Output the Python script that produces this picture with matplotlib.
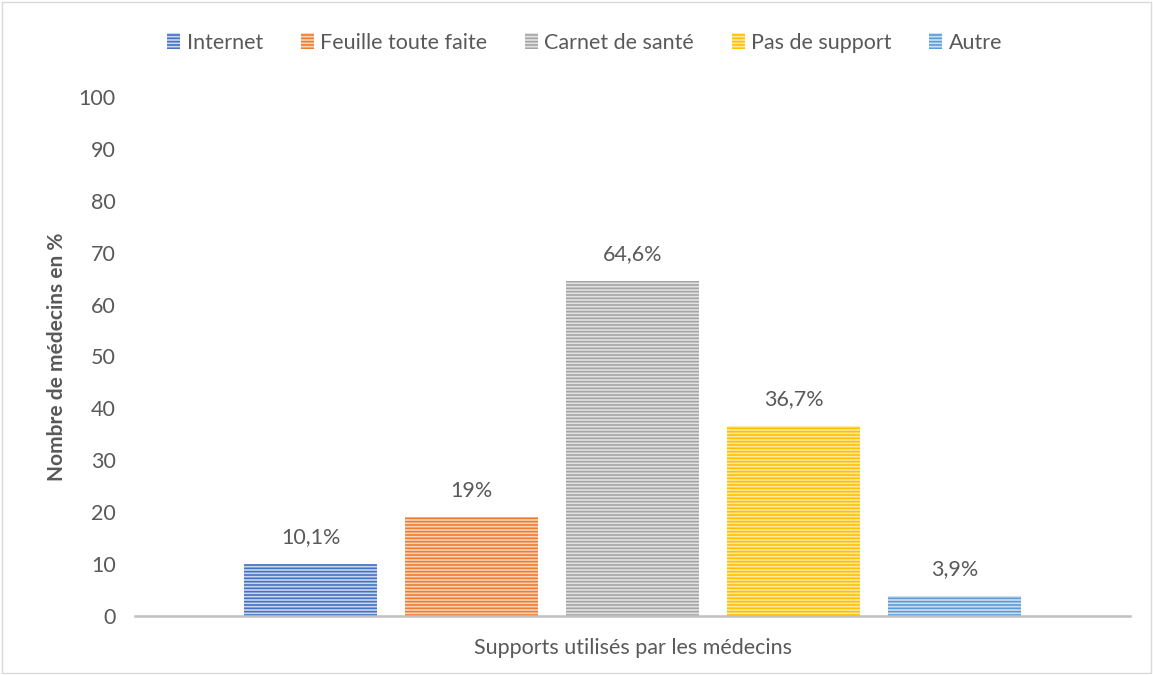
import matplotlib.pyplot as plt
import matplotlib as mpl

plt.rcParams['font.family'] = ['Lato', 'DejaVu Sans']
plt.rcParams['hatch.linewidth'] = 1.2

categories = ['Internet', 'Feuille toute faite', 'Carnet de santé', 'Pas de support', 'Autre']
values = [10.1, 19, 64.6, 36.7, 3.9]
labels = ['10,1%', '19%', '64,6%', '36,7%', '3,9%']
colors = ['#4472C4', '#ED7D31', '#A5A5A5', '#FFC000', '#5B9BD5']
light = ['#C9D6EE', '#F9D3BA', '#E2E2E2', '#FFE8A6', '#CDE0F1']

txt = '#595959'
fs = 15.5

fig = plt.figure(figsize=(11.53, 6.75), dpi=100)
ax = fig.add_axes([135 / 1153, 1 - 616 / 675, 995 / 1153, (616 - 97) / 675])

for i, (v, c, lc, cat) in enumerate(zip(values, colors, light, categories)):
    ax.bar(i, v, width=0.82, color=lc, edgecolor=c, hatch='-----', linewidth=0, label=cat)
    ax.text(i, v + 3.2, labels[i], ha='center', va='bottom', fontsize=fs, color=txt)

ax.set_xlim(-1.09, 5.09)
ax.set_ylim(0, 100)
ax.set_yticks(range(0, 101, 10))
ax.set_xticks([])
ax.tick_params(axis='y', length=0, labelsize=fs, labelcolor=txt, pad=14)
for s in ['top', 'right', 'left']:
    ax.spines[s].set_visible(False)
ax.spines['bottom'].set_color('#BFBFBF')
ax.spines['bottom'].set_linewidth(1.8)

ax.set_ylabel('Nombre de médecins en %', fontsize=fs - 0.5, fontweight='bold', color=txt, labelpad=8)
ax.set_xlabel('Supports utilisés par les médecins', fontsize=fs, color=txt, labelpad=16)

leg = ax.legend(loc='center', bbox_to_anchor=(0.452, 1.105), ncol=5, frameon=False,
                fontsize=fs, handlelength=0.6, handleheight=0.7, handletextpad=0.3,
                columnspacing=1.75, labelcolor=txt)

fig.patches.append(mpl.patches.Rectangle((0.002, 0.003), 0.996, 0.994, transform=fig.transFigure,
                                         fill=False, edgecolor='#D9D9D9', linewidth=1))

plt.savefig('out.png', dpi=100)
